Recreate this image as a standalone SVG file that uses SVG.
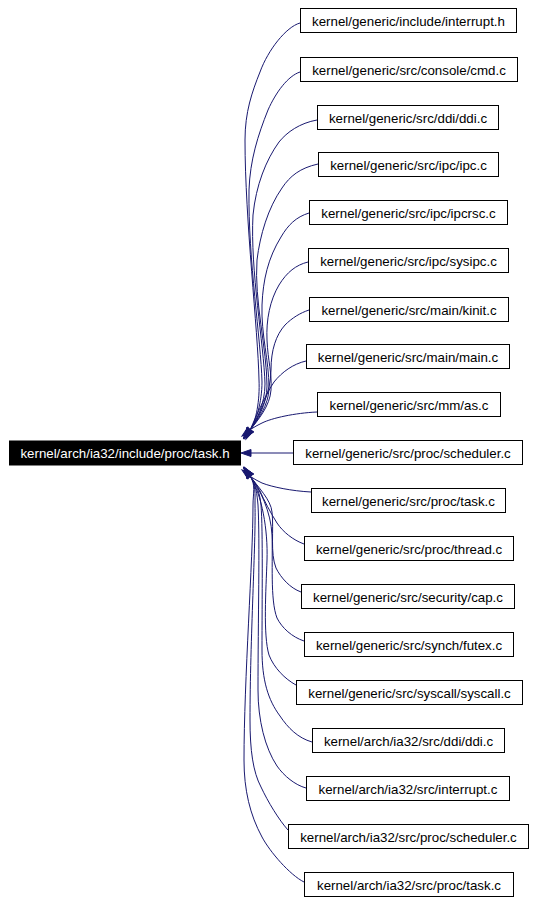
<svg xmlns="http://www.w3.org/2000/svg" width="535" height="903" viewBox="0 0 535 903">
<style>
.nb rect{fill:#ffffff;stroke:#000000;stroke-width:1}
.nm rect{fill:#000000;stroke:#000000;stroke-width:1}
text{font-family:"Liberation Sans",Arial,Helvetica,sans-serif;font-size:13.3px;text-anchor:middle;fill:#000000}
.nm text{fill:#ffffff}
.edges path{fill:none;stroke:#191970;stroke-width:1;marker-end:url(#ah)}
</style>
<defs>
<marker id="ah" markerUnits="userSpaceOnUse" markerWidth="12" markerHeight="8" refX="0" refY="0" orient="auto" overflow="visible">
<path d="M0,-3.5 L10,0 L0,3.5 z" fill="#191970" stroke="#191970" stroke-width="1"/>
</marker>
</defs>
<rect width="535" height="903" fill="#ffffff"/>
<g class="edges" id="edges">
<path d="M300,23 C286,27 268,50 260,72 C252,92 245,112 245,140 C245,220 258,330 259,380 C260,400 256,422 250,430"/>
<path d="M300,72 C288,76 276,92 268,110 C258,135 250,160 249,190 C248,260 261,340 262,382 C262,402 256,422 250,430"/>
<path d="M317,120 C300,123 287,132 279,142 C266,160 256,185 253,215 C250,270 264,345 265,384 C265,404 256,422 250,430"/>
<path d="M318,164 C300,168 290,176 282,188 C268,208 260,235 257,260 C254,300 267,350 267,386 C267,404 257,421 250,430"/>
<path d="M309,213 C296,217 288,225 281,237 C268,258 263,280 262,305 C261,335 269,360 269,388 C269,405 257,421 250,430"/>
<path d="M308,262 C296,265 287,272 279,285 C270,300 266,320 267,340 C268,362 272,372 271,390 C270,406 258,420 250,430"/>
<path d="M309,310 C300,313 292,318 285,325 C276,335 271,350 271,370 C271,392 260,414 250,430"/>
<path d="M306,361 C293,364 282,372 274,382 C266,394 258,412 250,430"/>
<path d="M317,412 C295,413 272,418 262,423 C258,425 254,427 250,430"/>
<path d="M293,453 L251,453"/>
<path d="M311,492 C292,491 272,487 262,483 C258,481 254,479 250,476"/>
<path d="M304,544 C293,540 283,532 277,523 C270,512 264,500 260,491 C258,487 256,484 250,476"/>
<path d="M301,592 C290,588 281,578 276,568 C270,553 274,530 272,512 C271,500 258,487 250,476"/>
<path d="M304,641 C292,637 282,628 277,618 C270,600 273,560 272,535 C271,512 260,489 250,476"/>
<path d="M296,685 C285,679 274,668 269,655 C263,635 266,590 267,560 C268,530 262,495 250,476"/>
<path d="M312,742 C298,738 288,728 280,716 C268,700 262,680 262,650 C262,600 263,530 261,505 C260,494 257,485 250,476"/>
<path d="M306,788 C295,785 284,776 277,766 C265,748 258,720 258,690 C258,620 260,540 258,505 C257,494 256,485 250,476"/>
<path d="M288,830 C279,820 268,802 261,787 C253,772 250,750 250,720 C250,640 256,540 255,505 C255,494 256,485 250,476"/>
<path d="M304,882 C290,875 270,852 262,837 C250,815 244,790 244,760 C244,680 253,560 253,505 C253,494 256,484 250,476"/>
</g>
<g id="n0" class="nm"><rect x="9.5" y="441" width="231" height="24"/><text x="125" y="458">kernel/arch/ia32/include/proc/task.h</text></g>
<g id="n1" class="nb"><rect x="300.5" y="8.5" width="216" height="24"/><text x="408.5" y="25.5">kernel/generic/include/interrupt.h</text></g>
<g id="n2" class="nb"><rect x="300.5" y="57.5" width="217" height="24"/><text x="409" y="74.5">kernel/generic/src/console/cmd.c</text></g>
<g id="n3" class="nb"><rect x="317.5" y="105.5" width="181" height="24"/><text x="408" y="122.5">kernel/generic/src/ddi/ddi.c</text></g>
<g id="n4" class="nb"><rect x="318.5" y="152.5" width="180" height="24"/><text x="408.5" y="169.5">kernel/generic/src/ipc/ipc.c</text></g>
<g id="n5" class="nb"><rect x="309.5" y="200.5" width="198" height="24"/><text x="408.5" y="217.5">kernel/generic/src/ipc/ipcrsc.c</text></g>
<g id="n6" class="nb"><rect x="308.5" y="248.5" width="200" height="24"/><text x="408.5" y="265.5">kernel/generic/src/ipc/sysipc.c</text></g>
<g id="n7" class="nb"><rect x="309.5" y="297.5" width="199" height="24"/><text x="409" y="314.5">kernel/generic/src/main/kinit.c</text></g>
<g id="n8" class="nb"><rect x="306.5" y="344.5" width="203" height="24"/><text x="408" y="361.5">kernel/generic/src/main/main.c</text></g>
<g id="n9" class="nb"><rect x="317.5" y="392.5" width="183" height="24"/><text x="409" y="409.5">kernel/generic/src/mm/as.c</text></g>
<g id="n10" class="nb"><rect x="293.5" y="440.5" width="229" height="24"/><text x="408" y="457.5">kernel/generic/src/proc/scheduler.c</text></g>
<g id="n11" class="nb"><rect x="311.5" y="488.5" width="194" height="24"/><text x="408.5" y="505.5">kernel/generic/src/proc/task.c</text></g>
<g id="n12" class="nb"><rect x="304.5" y="536.5" width="209" height="24"/><text x="409" y="553.5">kernel/generic/src/proc/thread.c</text></g>
<g id="n13" class="nb"><rect x="301.5" y="584.5" width="213" height="24"/><text x="408" y="601.5">kernel/generic/src/security/cap.c</text></g>
<g id="n14" class="nb"><rect x="304.5" y="632.5" width="209" height="24"/><text x="409" y="649.5">kernel/generic/src/synch/futex.c</text></g>
<g id="n15" class="nb"><rect x="296.5" y="680.5" width="226" height="24"/><text x="409.5" y="697.5">kernel/generic/src/syscall/syscall.c</text></g>
<g id="n16" class="nb"><rect x="312.5" y="728.5" width="192" height="24"/><text x="408.5" y="745.5">kernel/arch/ia32/src/ddi/ddi.c</text></g>
<g id="n17" class="nb"><rect x="306.5" y="776.5" width="203" height="24"/><text x="408" y="793.5">kernel/arch/ia32/src/interrupt.c</text></g>
<g id="n18" class="nb"><rect x="288.5" y="824.5" width="240" height="24"/><text x="408.5" y="841.5">kernel/arch/ia32/src/proc/scheduler.c</text></g>
<g id="n19" class="nb"><rect x="304.5" y="872.5" width="209" height="24"/><text x="409" y="889.5">kernel/arch/ia32/src/proc/task.c</text></g>
</svg>
